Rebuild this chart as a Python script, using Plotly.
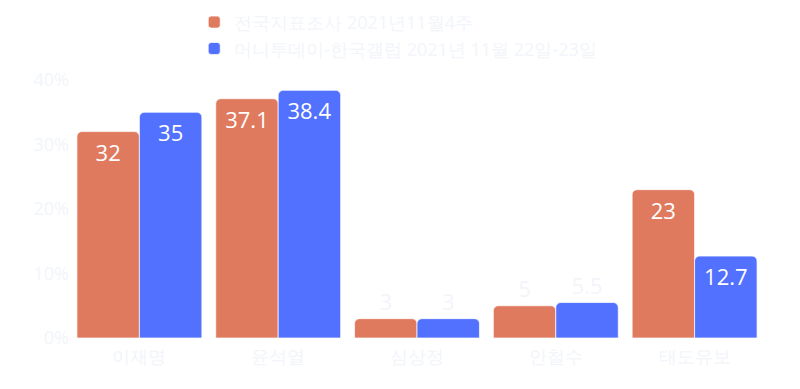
import plotly.graph_objects as go

categories = ["이재명", "윤석열", "심상정", "안철수", "태도유보"]
series1_name = "전국지표조사 2021년11월4주"
series1 = [32, 37.1, 3, 5, 23]
series2_name = "머니투데이-한국갤럽 2021년 11월 22일-23일"
series2 = [35, 38.4, 3, 5.5, 12.7]
ytick_vals = [0, 10, 20, 30, 40]
ytick_text = ["0%", "10%", "20%", "30%", "40%"]

light = "#f2f5fa"
font_family = "Open Sans, verdana, arial, sans-serif"


def positions(vals):
    return ["inside" if v >= 10 else "outside" for v in vals]


fig = go.Figure()
for name, vals, color in [(series1_name, series1, "#E07A5F"), (series2_name, series2, "#5271FF")]:
    fig.add_trace(go.Bar(
        x=categories, y=vals, name=name, text=vals,
        textposition=positions(vals), insidetextanchor="end", cliponaxis=False,
        marker=dict(color=color, line=dict(color="rgba(255,255,255,0.7)", width=1)),
        textfont=dict(size=22), insidetextfont=dict(color="white"),
        outsidetextfont=dict(color=light, size=22), textangle=0,
    ))
fig.update_layout(
    width=784, height=373,
    paper_bgcolor="white", plot_bgcolor="white",
    font=dict(family=font_family, size=18, color=light),
    barmode="group", bargap=0.1, bargroupgap=0, barcornerradius=5,
    margin=dict(l=62, r=28, t=72, b=43, autoexpand=False),
    legend=dict(x=0.179, y=1.295, xanchor="left", yanchor="top", orientation="h",
                entrywidth=0.8, entrywidthmode="fraction",
                font=dict(size=18, color=light), bgcolor="rgba(0,0,0,0)"),
    xaxis=dict(showgrid=False, zeroline=False, showline=False, ticklabelstandoff=6,
               tickfont=dict(size=18, color=light)),
    yaxis=dict(range=[0, 40], tickvals=ytick_vals, ticktext=ytick_text, showgrid=False,
               zeroline=False, showline=False, tickfont=dict(size=18, color=light)),
)
fig.write_html("out.html")
